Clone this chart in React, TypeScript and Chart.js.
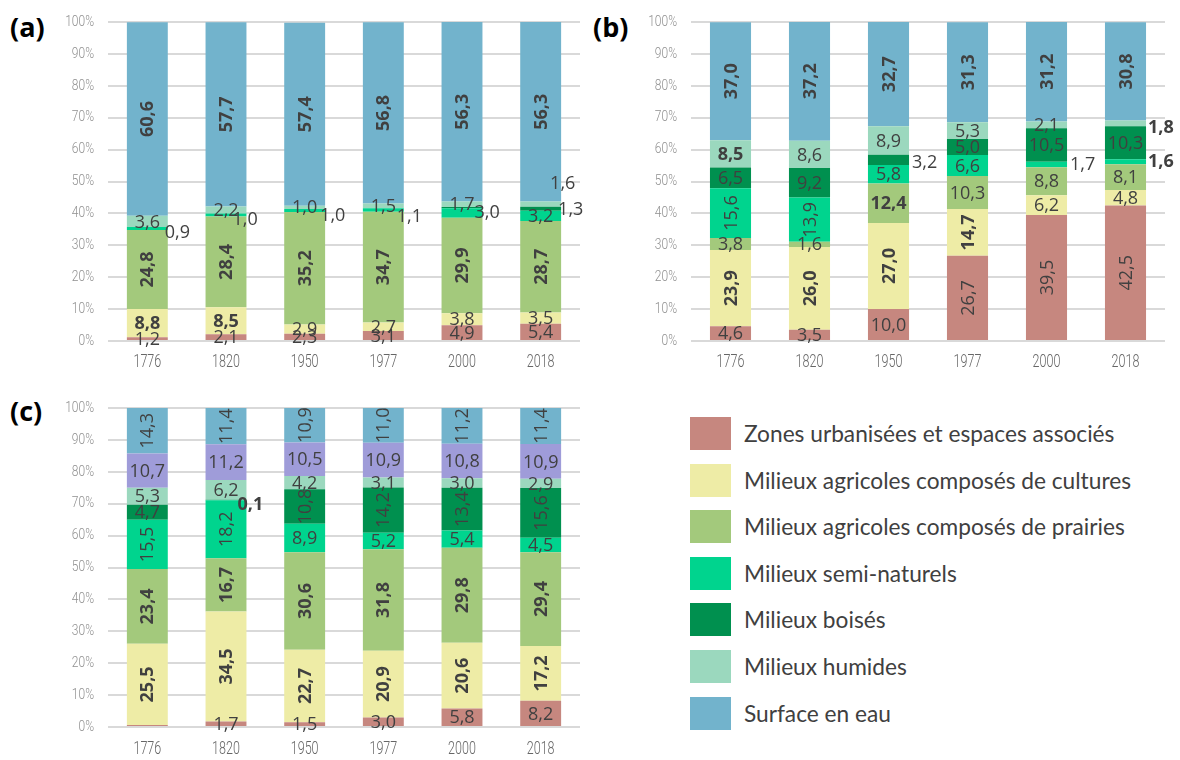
import React, { useEffect, useRef } from 'react';
import { Chart, registerables } from 'chart.js';

Chart.register(...registerables);

const YEARS = ['1776', '1820', '1950', '1977', '2000', '2018'];
const Y_TICKS_STEP = 10;

// Panel (a)
const A_URBAN = [1.2, 2.1, 2.3, 3.1, 4.9, 5.4];
const A_CULTURES = [8.8, 8.5, 2.9, 2.7, 3.8, 3.5];
const A_PRAIRIES = [24.8, 28.4, 35.2, 34.7, 29.9, 28.7];
const A_SEMI = [0.9, 1.0, 1.0, 1.1, 3.0, 3.2];
const A_BOISES = [0, 0, 0, 0, 0.4, 1.3];
const A_HUMIDES = [3.6, 2.2, 1.0, 1.5, 1.7, 1.6];
const A_EAU = [60.6, 57.7, 57.4, 56.8, 56.3, 56.3];

// Panel (b)
const B_URBAN = [4.6, 3.5, 10.0, 26.7, 39.5, 42.5];
const B_CULTURES = [23.9, 26.0, 27.0, 14.7, 6.2, 4.8];
const B_PRAIRIES = [3.8, 1.6, 12.4, 10.3, 8.8, 8.1];
const B_SEMI = [15.6, 13.9, 5.8, 6.6, 1.7, 1.6];
const B_BOISES = [6.5, 9.2, 3.2, 5.0, 10.5, 10.3];
const B_HUMIDES = [8.5, 8.6, 8.9, 5.3, 2.1, 1.8];
const B_EAU = [37.0, 37.2, 32.7, 31.3, 31.2, 30.8];

// Panel (c)
const C_URBAN = [0.6, 1.7, 1.5, 3.0, 5.8, 8.2];
const C_CULTURES = [25.5, 34.5, 22.7, 20.9, 20.6, 17.2];
const C_PRAIRIES = [23.4, 16.7, 30.6, 31.8, 29.8, 29.4];
const C_SEMI = [15.5, 18.2, 8.9, 5.2, 5.4, 4.5];
const C_BOISES = [4.7, 0.1, 10.8, 14.2, 13.4, 15.6];
const C_HUMIDES = [5.3, 6.2, 4.2, 3.1, 3.0, 2.9];
const C_AUTRES = [10.7, 11.2, 10.5, 10.9, 10.8, 10.9];
const C_EAU = [14.3, 11.4, 10.9, 11.0, 11.2, 11.4];

const LEGEND_LABELS = [
  'Zones urbanisées et espaces associés',
  'Milieux agricoles composés de cultures',
  'Milieux agricoles composés de prairies',
  'Milieux semi-naturels',
  'Milieux boisés',
  'Milieux humides',
  'Surface en eau',
];

const COLORS: Record<string, string> = {
  urban: '#c6877f',
  cultures: '#eeeca6',
  prairies: '#a3c97c',
  semi: '#00d48e',
  boises: '#00904f',
  humides: '#9bd8be',
  autres: '#9f9cd9',
  eau: '#72b3cc',
};

const KEYS7 = ['urban', 'cultures', 'prairies', 'semi', 'boises', 'humides', 'eau'];

type Outside = { s: string; c: number; dx: number; dy: number };
type PanelStyle = {
  rotMin: Record<string, number>;
  bold: Record<string, number[]>;
  outside: Outside[];
  hidden: { s: string; c: number }[];
};

const ALL = [0, 1, 2, 3, 4, 5];

const STYLE_A: PanelStyle = {
  rotMin: {},
  bold: { cultures: [0, 1], prairies: ALL, eau: ALL },
  outside: [
    { s: 'semi', c: 0, dx: -3, dy: 4 },
    { s: 'semi', c: 1, dx: -14, dy: 5 },
    { s: 'semi', c: 2, dx: -5, dy: 5 },
    { s: 'semi', c: 3, dx: -7, dy: 7 },
    { s: 'semi', c: 4, dx: -8, dy: 0 },
    { s: 'boises', c: 5, dx: -3, dy: 1 },
    { s: 'humides', c: 5, dx: -11, dy: -20 },
  ],
  hidden: [0, 1, 2, 3, 4].map((c) => ({ s: 'boises', c })),
};

const STYLE_B: PanelStyle = {
  rotMin: {},
  bold: { cultures: [0, 1, 2, 3], prairies: [2], humides: [0, 5], semi: [5], eau: ALL },
  outside: [
    { s: 'boises', c: 2, dx: 3, dy: 3 },
    { s: 'semi', c: 4, dx: 3, dy: 0 },
    { s: 'humides', c: 5, dx: 2, dy: 4 },
    { s: 'semi', c: 5, dx: 2, dy: 0 },
  ],
  hidden: [],
};

const STYLE_C: PanelStyle = {
  rotMin: { eau: 10, boises: 10 },
  bold: { cultures: ALL, prairies: ALL, boises: [1] },
  outside: [{ s: 'boises', c: 1, dx: -9, dy: 5 }],
  hidden: [{ s: 'urban', c: 0 }],
};

function fmt(v: number) {
  return v.toFixed(1).replace('.', ',');
}

const labelPlugin = {
  id: 'segLabels',
  afterDatasetsDraw(chart: any, _args: any, opts: any) {
    const style: PanelStyle = opts.style;
    const keys: string[] = opts.keys;
    const ctx = chart.ctx;
    ctx.save();
    ctx.fillStyle = '#404040';
    chart.data.datasets.forEach((ds: any, i: number) => {
      const key = keys[i];
      const meta = chart.getDatasetMeta(i);
      meta.data.forEach((el: any, j: number) => {
        const v = ds.data[j] as number;
        if (style.hidden.some((h) => h.s === key && h.c === j)) return;
        const p = el.getProps(['x', 'y', 'base', 'width'], true);
        const cy = (p.y + p.base) / 2;
        const bold = (style.bold[key] || []).includes(j);
        ctx.font = `${bold ? 700 : 400} 18px 'Open Sans', sans-serif`;
        const txt = fmt(v);
        const out = style.outside.find((o) => o.s === key && o.c === j);
        const rotMin = style.rotMin[key] ?? 13;
        if (out) {
          ctx.textAlign = 'left';
          ctx.textBaseline = 'middle';
          ctx.fillText(txt, p.x + p.width / 2 + out.dx, cy + out.dy);
        } else if (v >= rotMin) {
          ctx.save();
          ctx.translate(p.x, cy);
          ctx.rotate(-Math.PI / 2);
          ctx.textAlign = 'center';
          ctx.textBaseline = 'middle';
          ctx.fillText(txt, 0, 1);
          ctx.restore();
        } else {
          ctx.textAlign = 'center';
          ctx.textBaseline = 'middle';
          ctx.fillText(txt, p.x, cy + 1);
        }
      });
    });
    ctx.restore();
  },
};

// Draws the scales' tick labels (positions from the library's scales) in a condensed face
const narrowTicks = {
  id: 'narrowTicks',
  afterDraw(chart: any, _args: any, opts: any) {
    const ctx = chart.ctx;
    const ys = chart.scales.y;
    const xs = chart.scales.x;
    const area = chart.chartArea;
    ctx.save();
    ctx.textBaseline = 'middle';
    ctx.fillStyle = '#8f8f8f';
    ctx.font = "300 15px Roboto, sans-serif";
    ys.ticks.forEach((t: any, i: number) => {
      const y = ys.getPixelForTick(i);
      ctx.save();
      ctx.translate(area.left - 14, y);
      ctx.scale(0.8, 1);
      ctx.textAlign = 'right';
      ctx.fillText(`${t.value}%`, 0, 0);
      ctx.restore();
    });
    ctx.fillStyle = '#666666';
    ctx.font = "300 19px Roboto, sans-serif";
    xs.ticks.forEach((_t: any, i: number) => {
      const x = xs.getPixelForTick(i);
      ctx.save();
      ctx.translate(x, area.bottom + opts.xOffset);
      ctx.scale(0.66, 1);
      ctx.textAlign = 'center';
      ctx.fillText(String(chart.data.labels[i]), 0, 0);
      ctx.restore();
    });
    ctx.restore();
  },
};

type PanelProps = {
  left: number;
  top: number;
  width: number;
  height: number;
  yAxisWidth: number;
  xAxisHeight: number;
  padTop: number;
  padRight: number;
  xOffset: number;
  keys: string[];
  data: number[][];
  style: PanelStyle;
};

function Panel(props: PanelProps) {
  const ref = useRef<HTMLCanvasElement>(null);
  useEffect(() => {
    const chart = new Chart(ref.current as HTMLCanvasElement, {
      type: 'bar',
      data: {
        labels: YEARS,
        datasets: props.keys.map((k, i) => ({
          label: k,
          data: props.data[i],
          backgroundColor: COLORS[k],
          borderWidth: 0,
          barPercentage: 0.52,
          categoryPercentage: 1,
        })),
      },
      options: {
        responsive: false,
        animation: false,
        layout: { padding: { top: props.padTop, right: props.padRight, left: 0, bottom: 0 } },
        plugins: {
          legend: { display: false },
          tooltip: { enabled: false },
          segLabels: { style: props.style, keys: props.keys },
          narrowTicks: { xOffset: props.xOffset },
        } as any,
        scales: {
          x: {
            stacked: true,
            grid: { display: false, drawTicks: false },
            border: { display: false },
            ticks: { display: false },
            afterFit: (s: any) => {
              s.height = props.xAxisHeight;
            },
          },
          y: {
            stacked: true,
            min: 0,
            max: 100,
            grid: { color: '#d9d9d9', lineWidth: 2, drawTicks: false },
            border: { display: false },
            ticks: { stepSize: Y_TICKS_STEP, display: false },
            afterFit: (s: any) => {
              s.width = props.yAxisWidth;
            },
          },
        },
      } as any,
      plugins: [labelPlugin as any, narrowTicks as any],
    });
    return () => chart.destroy();
  }, []);
  return (
    <canvas
      ref={ref}
      width={props.width}
      height={props.height}
      style={{ position: 'absolute', left: props.left, top: props.top }}
    />
  );
}

const panelLabelStyle: React.CSSProperties = {
  position: 'absolute',
  fontFamily: "'Open Sans', sans-serif",
  fontWeight: 700,
  fontSize: 27,
  lineHeight: '30px',
  color: '#000',
};

export default function App() {
  const legendKeys = KEYS7;
  return (
    <div
      style={{
        position: 'fixed',
        left: 0,
        top: 0,
        width: 1180,
        height: 760,
        background: '#fff',
        overflow: 'hidden',
      }}
    >
      <div style={{ ...panelLabelStyle, left: 10, top: 12 }}>(a)</div>
      <div style={{ ...panelLabelStyle, left: 593, top: 12 }}>(b)</div>
      <div style={{ ...panelLabelStyle, left: 10, top: 396 }}>(c)</div>

      <Panel
        left={40}
        top={8}
        width={548}
        height={367}
        yAxisWidth={68}
        xAxisHeight={34}
        padTop={14}
        padRight={8}
        xOffset={21}
        keys={KEYS7}
        data={[A_URBAN, A_CULTURES, A_PRAIRIES, A_SEMI, A_BOISES, A_HUMIDES, A_EAU]}
        style={STYLE_A}
      />
      <Panel
        left={620}
        top={8}
        width={560}
        height={367}
        yAxisWidth={71}
        xAxisHeight={34}
        padTop={14}
        padRight={15}
        xOffset={21}
        keys={KEYS7}
        data={[B_URBAN, B_CULTURES, B_PRAIRIES, B_SEMI, B_BOISES, B_HUMIDES, B_EAU]}
        style={STYLE_B}
      />
      <Panel
        left={40}
        top={392}
        width={548}
        height={365}
        yAxisWidth={68}
        xAxisHeight={30}
        padTop={16}
        padRight={8}
        xOffset={22}
        keys={['urban', 'cultures', 'prairies', 'semi', 'boises', 'humides', 'autres', 'eau']}
        data={[C_URBAN, C_CULTURES, C_PRAIRIES, C_SEMI, C_BOISES, C_HUMIDES, C_AUTRES, C_EAU]}
        style={STYLE_C}
      />

      {LEGEND_LABELS.map((label, k) => {
        const cy = 434 + k * 46.6;
        return (
          <React.Fragment key={label}>
            <div
              style={{
                position: 'absolute',
                left: 690,
                top: cy - 17,
                width: 41,
                height: 33,
                background: COLORS[legendKeys[k]],
              }}
            />
            <div
              style={{
                position: 'absolute',
                left: 744,
                top: cy - 15,
                height: 30,
                lineHeight: '30px',
                fontFamily: "Lato, sans-serif",
                fontSize: 22.7,
                color: '#404040',
                whiteSpace: 'nowrap',
              }}
            >
              {label}
            </div>
          </React.Fragment>
        );
      })}
    </div>
  );
}
